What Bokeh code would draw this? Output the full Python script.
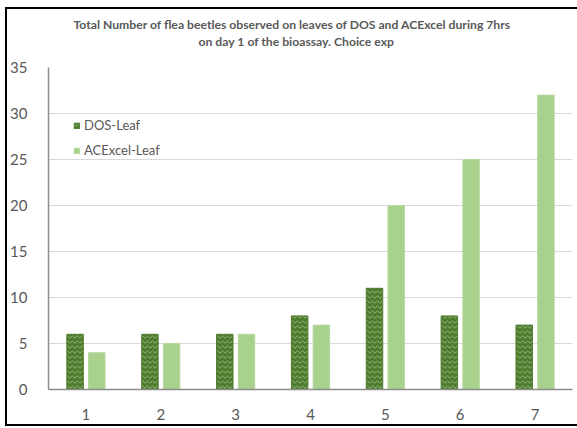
from bokeh.plotting import figure
from bokeh.models import (ColumnDataSource, FactorRange, Range1d, FixedTicker,
                          Legend, LegendItem, Title)
from bokeh.transform import dodge
from bokeh.embed import file_html
from bokeh.resources import INLINE

# Day of the bioassay and beetle counts per leaf type
days = ["1", "2", "3", "4", "5", "6", "7"]
dos_leaf = [6, 6, 6, 8, 11, 8, 7]
acexcel_leaf = [4, 5, 6, 7, 20, 25, 32]
y_ticks = [0, 5, 10, 15, 20, 25, 30, 35]
series_names = ["DOS-Leaf", "ACExcel-Leaf"]
title_lines = [
    "Total Number of flea beetles observed on leaves of DOS and ACExcel during 7hrs",
    "on day 1 of the bioassay. Choice exp",
]

FONT = "Lato"
GREY = "#595959"

src = ColumnDataSource(dict(day=days, dos=dos_leaf, ace=acexcel_leaf))

p = figure(width=570, height=415, title=None,
           x_range=FactorRange(factors=days, range_padding=0),
           y_range=Range1d(0, 35),
           output_backend="svg", toolbar_location=None,
           min_border_left=38, min_border_right=5,
           min_border_top=58, min_border_bottom=35)

# black chart border drawn as shadows (the right edge runs past the page)
p.margin = (9, 0, 0, 7)
p.styles = {"box-shadow": "-2px 0 0 0 #000, 0 -2px 0 0 #000, 0 2px 0 0 #000, "
                          "-2px -2px 0 0 #000, -2px 2px 0 0 #000"}

p.outline_line_color = None
p.background_fill_color = "white"
p.border_fill_color = "white"

# bars
r_dos = p.vbar(x=dodge("day", -0.145, range=p.x_range), top="dos", width=0.22,
               source=src, fill_color="#4F7B2F", line_color="#4F7B2F",
               hatch_pattern="horizontal_wave", hatch_color="#A9D18E",
               hatch_scale=5, hatch_weight=0.8, hatch_alpha=0.9)
r_ace = p.vbar(x=dodge("day", 0.145, range=p.x_range), top="ace", width=0.22,
               source=src, fill_color="#A9D18E", line_color="#B7D9A0")

# axes
p.yaxis.ticker = FixedTicker(ticks=y_ticks)
p.ygrid.ticker = FixedTicker(ticks=y_ticks)
p.ygrid.grid_line_color = "#D9D9D9"
p.ygrid.grid_line_width = 1
p.xgrid.grid_line_color = None

for ax in (p.xaxis[0], p.yaxis[0]):
    ax.axis_line_color = "#8C8C8C"
    ax.axis_line_width = 1.5
    ax.major_tick_line_color = None
    ax.minor_tick_line_color = None
    ax.major_label_text_font = FONT
    ax.major_label_text_font_size = "15px"
    ax.major_label_text_color = GREY
p.yaxis.major_label_standoff = 15
p.xaxis.major_label_standoff = 13

# legend
legend = Legend(items=[LegendItem(label=series_names[0], renderers=[r_dos]),
                       LegendItem(label=series_names[1], renderers=[r_ace])],
                location=(25, 229), orientation="vertical",
                border_line_color=None, background_fill_alpha=0,
                padding=0, margin=0, spacing=5,
                glyph_width=7, glyph_height=7, label_height=20,
                label_standoff=4,
                label_text_font=FONT, label_text_font_size="13px",
                label_text_color=GREY)
p.add_layout(legend)

# two-line title, second line nearest the plot (padding: left, right, top, bottom)
for line, off, pad in ((title_lines[1], 150, (0, 0, 0, 19)),
                       (title_lines[0], 25, 0)):
    p.add_layout(Title(text=line, align="left", offset=off, standoff=0,
                       padding=pad,
                       text_font=FONT, text_font_style="bold",
                       text_font_size="12.2px", text_color=GREY), "above")

open("out.html", "w").write(file_html(p, INLINE))
